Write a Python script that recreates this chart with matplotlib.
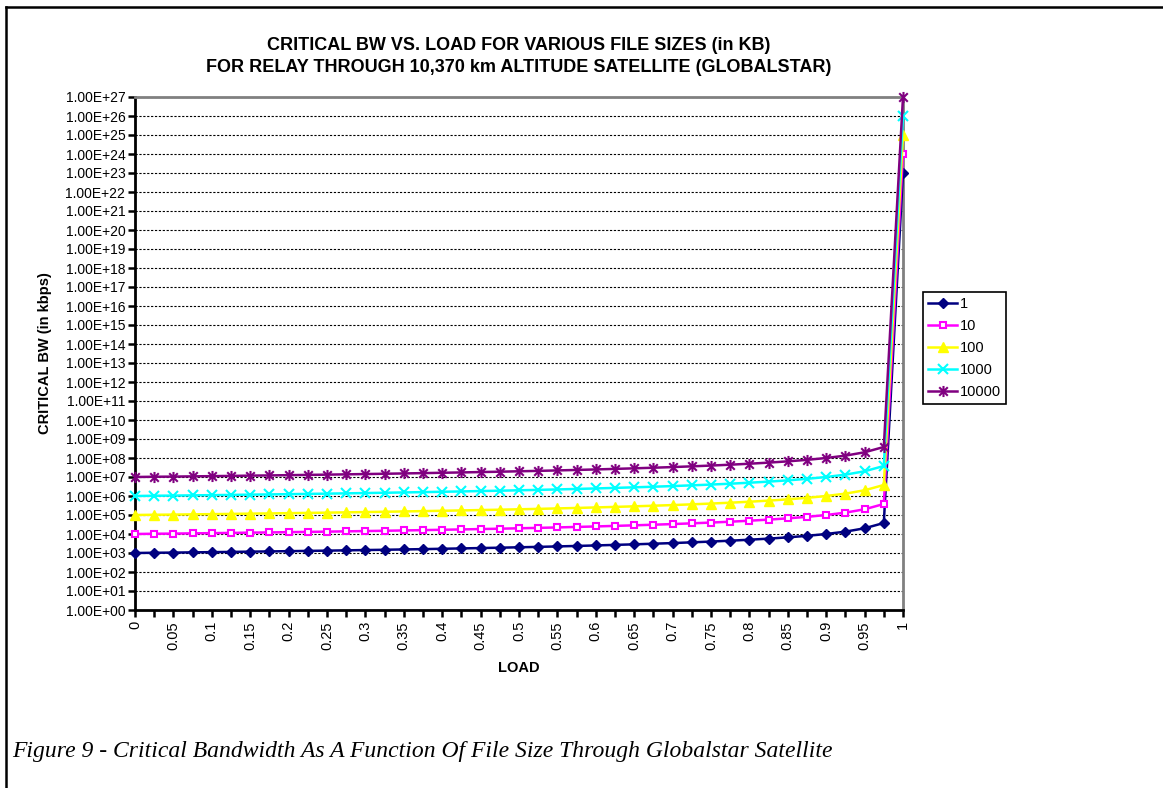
import matplotlib
matplotlib.use('Agg')
import matplotlib.pyplot as plt
from matplotlib.lines import Line2D
from matplotlib.path import Path
from matplotlib.ticker import FuncFormatter, NullLocator, FixedLocator

plt.rcParams['font.family'] = ['Liberation Sans', 'DejaVu Sans']

# LOAD values (category axis, step 0.025)
load = [0.0, 0.025, 0.05, 0.075, 0.1, 0.125, 0.15, 0.175, 0.2, 0.225,
        0.25, 0.275, 0.3, 0.325, 0.35, 0.375, 0.4, 0.425, 0.45, 0.475,
        0.5, 0.525, 0.55, 0.575, 0.6, 0.625, 0.65, 0.675, 0.7, 0.725,
        0.75, 0.775, 0.8, 0.825, 0.85, 0.875, 0.9, 0.925, 0.95, 0.975, 1.0]

# critical BW (kbps), one list per file size (KB)
bw_1 = [1.00e3, 1.03e3, 1.05e3, 1.08e3, 1.11e3, 1.14e3, 1.18e3, 1.21e3, 1.25e3, 1.29e3,
        1.33e3, 1.38e3, 1.43e3, 1.48e3, 1.54e3, 1.60e3, 1.67e3, 1.74e3, 1.82e3, 1.90e3,
        2.00e3, 2.10e3, 2.22e3, 2.35e3, 2.50e3, 2.67e3, 2.86e3, 3.08e3, 3.33e3, 3.64e3,
        4.00e3, 4.44e3, 5.00e3, 5.71e3, 6.67e3, 8.00e3, 1.00e4, 1.33e4, 2.00e4, 3.8e4, 1.0e23]
bw_10 = [1.00e4, 1.03e4, 1.05e4, 1.08e4, 1.11e4, 1.14e4, 1.18e4, 1.21e4, 1.25e4, 1.29e4,
         1.33e4, 1.38e4, 1.43e4, 1.48e4, 1.54e4, 1.60e4, 1.67e4, 1.74e4, 1.82e4, 1.90e4,
         2.00e4, 2.10e4, 2.22e4, 2.35e4, 2.50e4, 2.67e4, 2.86e4, 3.08e4, 3.33e4, 3.64e4,
         4.00e4, 4.44e4, 5.00e4, 5.71e4, 6.67e4, 8.00e4, 1.00e5, 1.33e5, 2.00e5, 3.8e5, 1.0e24]
bw_100 = [1.00e5, 1.03e5, 1.05e5, 1.08e5, 1.11e5, 1.14e5, 1.18e5, 1.21e5, 1.25e5, 1.29e5,
          1.33e5, 1.38e5, 1.43e5, 1.48e5, 1.54e5, 1.60e5, 1.67e5, 1.74e5, 1.82e5, 1.90e5,
          2.00e5, 2.10e5, 2.22e5, 2.35e5, 2.50e5, 2.67e5, 2.86e5, 3.08e5, 3.33e5, 3.64e5,
          4.00e5, 4.44e5, 5.00e5, 5.71e5, 6.67e5, 8.00e5, 1.00e6, 1.33e6, 2.00e6, 3.8e6, 1.0e25]
bw_1000 = [1.00e6, 1.03e6, 1.05e6, 1.08e6, 1.11e6, 1.14e6, 1.18e6, 1.21e6, 1.25e6, 1.29e6,
           1.33e6, 1.38e6, 1.43e6, 1.48e6, 1.54e6, 1.60e6, 1.67e6, 1.74e6, 1.82e6, 1.90e6,
           2.00e6, 2.10e6, 2.22e6, 2.35e6, 2.50e6, 2.67e6, 2.86e6, 3.08e6, 3.33e6, 3.64e6,
           4.00e6, 4.44e6, 5.00e6, 5.71e6, 6.67e6, 8.00e6, 1.00e7, 1.33e7, 2.00e7, 3.8e7, 1.0e26]
bw_10000 = [1.00e7, 1.03e7, 1.05e7, 1.08e7, 1.11e7, 1.14e7, 1.18e7, 1.21e7, 1.25e7, 1.29e7,
            1.33e7, 1.38e7, 1.43e7, 1.48e7, 1.54e7, 1.60e7, 1.67e7, 1.74e7, 1.82e7, 1.90e7,
            2.00e7, 2.10e7, 2.22e7, 2.35e7, 2.50e7, 2.67e7, 2.86e7, 3.08e7, 3.33e7, 3.64e7,
            4.00e7, 4.44e7, 5.00e7, 5.71e7, 6.67e7, 8.00e7, 1.00e8, 1.33e8, 2.00e8, 3.8e8, 1.0e27]

series_names = ['1', '10', '100', '1000', '10000']

# excel style star marker: x plus vertical bar
star = Path([(-1, -1), (1, 1), (-1, 1), (1, -1), (0, -1.3), (0, 1.3)],
            [Path.MOVETO, Path.LINETO, Path.MOVETO, Path.LINETO, Path.MOVETO, Path.LINETO])

styles = [
    dict(color='#000080', marker='D', ms=5.5, mfc='#000080', mec='#000080'),
    dict(color='#FF00FF', marker='s', ms=5, mfc='white', mec='#FF00FF', mew=1.5),
    dict(color='#FFFF00', marker='^', ms=7, mfc='#FFFF00', mec='#FFFF00'),
    dict(color='#00FFFF', marker='x', ms=7, mec='#00FFFF', mew=1.5),
    dict(color='#800080', marker=star, ms=8, mec='#800080', mew=1.5),
]

fig = plt.figure(figsize=(11.63, 7.88), dpi=100)
ax = fig.add_axes([135/1163, 1 - 610/788, 768/1163, 513/788])

for vals, name, st in zip([bw_1, bw_10, bw_100, bw_1000, bw_10000], series_names, styles):
    ax.plot(load, vals, lw=1.8, label=name, clip_on=False, zorder=3, **st)

ax.set_yscale('log')
ax.set_ylim(1, 1e27)
ax.set_xlim(0, 1)

# y axis: one tick per decade
ax.yaxis.set_major_locator(FixedLocator([10.0**k for k in range(28)]))
ax.yaxis.set_minor_locator(NullLocator())
ax.yaxis.set_major_formatter(FuncFormatter(lambda v, p: '%.2E' % v))
ax.grid(axis='y', color='black', linestyle=(0, (2, 1.5)), lw=0.8, zorder=1)

# x axis: tick every category, label every other one
ax.set_xticks(load)
ax.set_xticklabels(['%g' % round(v, 3) if i % 2 == 0 else '' for i, v in enumerate(load)],
                   rotation=90, fontsize=10.5)
ax.tick_params(axis='y', labelsize=10, length=5, width=1.8, direction='out', pad=2)
ax.tick_params(axis='x', length=5, width=1.8, direction='out', pad=3)

for s in ['left', 'bottom']:
    ax.spines[s].set_linewidth(2)
    ax.spines[s].set_color('black')
for s in ['top', 'right']:
    ax.spines[s].set_linewidth(2)
    ax.spines[s].set_color('#808080')

ax.set_xlabel('LOAD', fontsize=10.5, fontweight='bold', labelpad=8)
ax.set_ylabel('CRITICAL BW (in kbps)', fontsize=10.5, fontweight='bold')
ax.yaxis.set_label_coords(52/1163, 0.5, transform=fig.transFigure)
ax.yaxis.label.set_y(1 - 353/788)

fig.text(519/1163, 1 - 46/788, 'CRITICAL BW VS. LOAD FOR VARIOUS FILE SIZES (in KB)',
         ha='center', va='center', fontsize=13, fontweight='bold')
fig.text(519/1163, 1 - 67/788, 'FOR RELAY THROUGH 10,370 km ALTITUDE SATELLITE (GLOBALSTAR)',
         ha='center', va='center', fontsize=13, fontweight='bold')

leg = fig.legend(loc='upper left', bbox_to_anchor=(923/1163, 1 - 292/788), fontsize=10.5,
                 fancybox=False, edgecolor='black', framealpha=1, handlelength=2.0,
                 borderpad=0.35, labelspacing=0.55, handletextpad=0.2, borderaxespad=0)
leg.get_frame().set_linewidth(1.2)

# document frame (left and top border) and figure caption
fig.add_artist(Line2D([6/1163, 6/1163], [0, 1 - 7/788], color='black', lw=1.8))
fig.add_artist(Line2D([6/1163, 1], [1 - 7/788, 1 - 7/788], color='black', lw=1.8))
fig.text(12/1163, 1 - 752/788,
         'Figure 9 - Critical Bandwidth As A Function Of File Size Through Globalstar Satellite',
         fontfamily='Liberation Serif', style='italic', fontsize=17, va='center', ha='left')

fig.savefig('out.png', dpi=100)
